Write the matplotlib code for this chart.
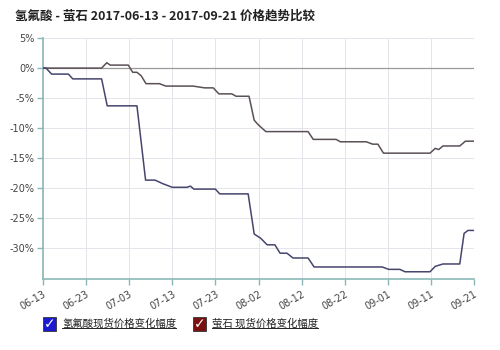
import matplotlib
matplotlib.use("Agg")
import matplotlib.pyplot as plt
from matplotlib.patches import Rectangle
from matplotlib.lines import Line2D
from datetime import datetime, timedelta

plt.rcParams['font.family'] = ['Noto Sans CJK SC', 'DejaVu Sans']

title = "氢氟酸 - 萤石 2017-06-13 - 2017-09-21 价格趋势比较"
start = datetime(2017, 6, 13)
end = datetime(2017, 9, 21)

# day offsets from 2017-06-13 and % change of HF spot price
hf_days = [0, 0.7, 2, 5.9, 6.9, 13.6, 14.9, 21.8, 23.8, 26, 27.8, 30, 33.4, 34.2, 35, 40,
           41, 47.6, 49, 50.5, 52, 53.8, 55, 56.6, 58, 61.5, 62.9, 78.7, 80.2, 82.8, 84,
           89.8, 91, 92.8, 96.7, 97.7, 98.6, 100]
hf_vals = [0, 0, -1.0, -1.0, -1.8, -1.8, -6.3, -6.3, -18.7, -18.7, -19.3, -19.9, -19.9, -19.7,
           -20.2, -20.2, -21.0, -21.0, -27.7, -28.4, -29.5, -29.5, -30.9, -30.9, -31.7, -31.7,
           -33.2, -33.2, -33.6, -33.6, -34.0, -34.0, -33.1, -32.7, -32.7, -27.6, -27.1, -27.1]

# day offsets and % change of fluorite spot price
fl_days = [0, 13.6, 14.8, 15.6, 19.8, 20.8, 21.8, 22.8, 23.9, 27, 28.5, 34.8, 37.5, 39.5,
           40.8, 43.8, 44.8, 47.8, 49, 50, 51.7, 61.5, 62.7, 68, 69, 75, 76.5, 77.7, 79, 89.8,
           91, 91.8, 92.8, 96.7, 98, 100]
fl_vals = [0, 0, 0.9, 0.5, 0.5, -0.7, -0.7, -1.3, -2.6, -2.6, -3.0, -3.0, -3.3, -3.3,
           -4.3, -4.3, -4.7, -4.7, -8.7, -9.5, -10.6, -10.6, -11.9, -11.9, -12.3, -12.3,
           -12.7, -12.7, -14.2, -14.2, -13.4, -13.6, -13.0, -13.0, -12.2, -12.2]

series_names = ["氢氟酸现货价格变化幅度", "萤石 现货价格变化幅度"]
series_colors = ["#45456e", "#5a5058"]
box_colors = ["#1a1ad0", "#7a1010"]

yticks = [5, 0, -5, -10, -15, -20, -25, -30]
xtick_labels = ["06-13", "06-23", "07-03", "07-13", "07-23", "08-02",
                "08-12", "08-22", "09-01", "09-11", "09-21"]

fig = plt.figure(figsize=(5, 3.5), dpi=100)
fig.patch.set_facecolor("white")
ax = fig.add_axes([0.086, 0.203, 0.862, 0.688])

to_dates = lambda d: [start + timedelta(days=v) for v in d]
ax.plot(to_dates(fl_days), fl_vals, color=series_colors[1], lw=1.1, zorder=3)
ax.plot(to_dates(hf_days), hf_vals, color=series_colors[0], lw=1.1, zorder=3)

ax.set_xlim(start, end)
ax.set_ylim(-35.2, 5)
xt = [start + timedelta(days=10 * i) for i in range(len(xtick_labels))]
ax.set_xticks(xt)
ax.set_xticklabels(xtick_labels, rotation=30, ha="right", rotation_mode="anchor",
                   fontsize=7, color="#444444", family="DejaVu Sans")
ax.set_yticks(yticks)
ax.set_yticklabels([f"{v}%" for v in yticks], fontsize=7, color="#444444", family="DejaVu Sans")

ax.grid(True, color="#e4e4ea", lw=0.7)
ax.axhline(0, color="#9a9a9a", lw=0.9, zorder=2)
for s in ["top", "right"]:
    ax.spines[s].set_visible(False)
for s in ["left", "bottom"]:
    ax.spines[s].set_color("#8ab8b8")
    ax.spines[s].set_linewidth(1.2)
ax.tick_params(axis="both", colors="#8ab8b8", length=4, width=1)
ax.tick_params(axis="x", labelcolor="#444444", pad=3)
ax.tick_params(axis="y", labelcolor="#444444", pad=2)

fig.text(0.03, 0.953, title, fontsize=9, fontweight="bold", color="#222222",
         va="center", ha="left")

# legend with check boxes and underlined labels
legend_x = [0.086, 0.386]
label_texts = []
for i, x0 in enumerate(legend_x):
    bx = Rectangle((x0, 0.053), 0.026, 0.042, transform=fig.transFigure,
                   facecolor=box_colors[i], edgecolor="#333333", lw=0.6)
    fig.patches.append(bx)
    fig.text(x0 + 0.013, 0.074, "✓", color="white", fontsize=10, fontweight="bold",
             ha="center", va="center", family="DejaVu Sans")
    label_texts.append(fig.text(x0 + 0.038, 0.075, series_names[i], fontsize=7.5,
                                color="#222222", ha="left", va="center"))
fig.canvas.draw()
renderer = fig.canvas.get_renderer()
for t in label_texts:
    bb = t.get_window_extent(renderer).transformed(fig.transFigure.inverted())
    fig.add_artist(Line2D([bb.x0, bb.x1], [bb.y0 + 0.002, bb.y0 + 0.002],
                          transform=fig.transFigure, color="#222222", lw=0.7))

fig.savefig("out.png", dpi=100)
